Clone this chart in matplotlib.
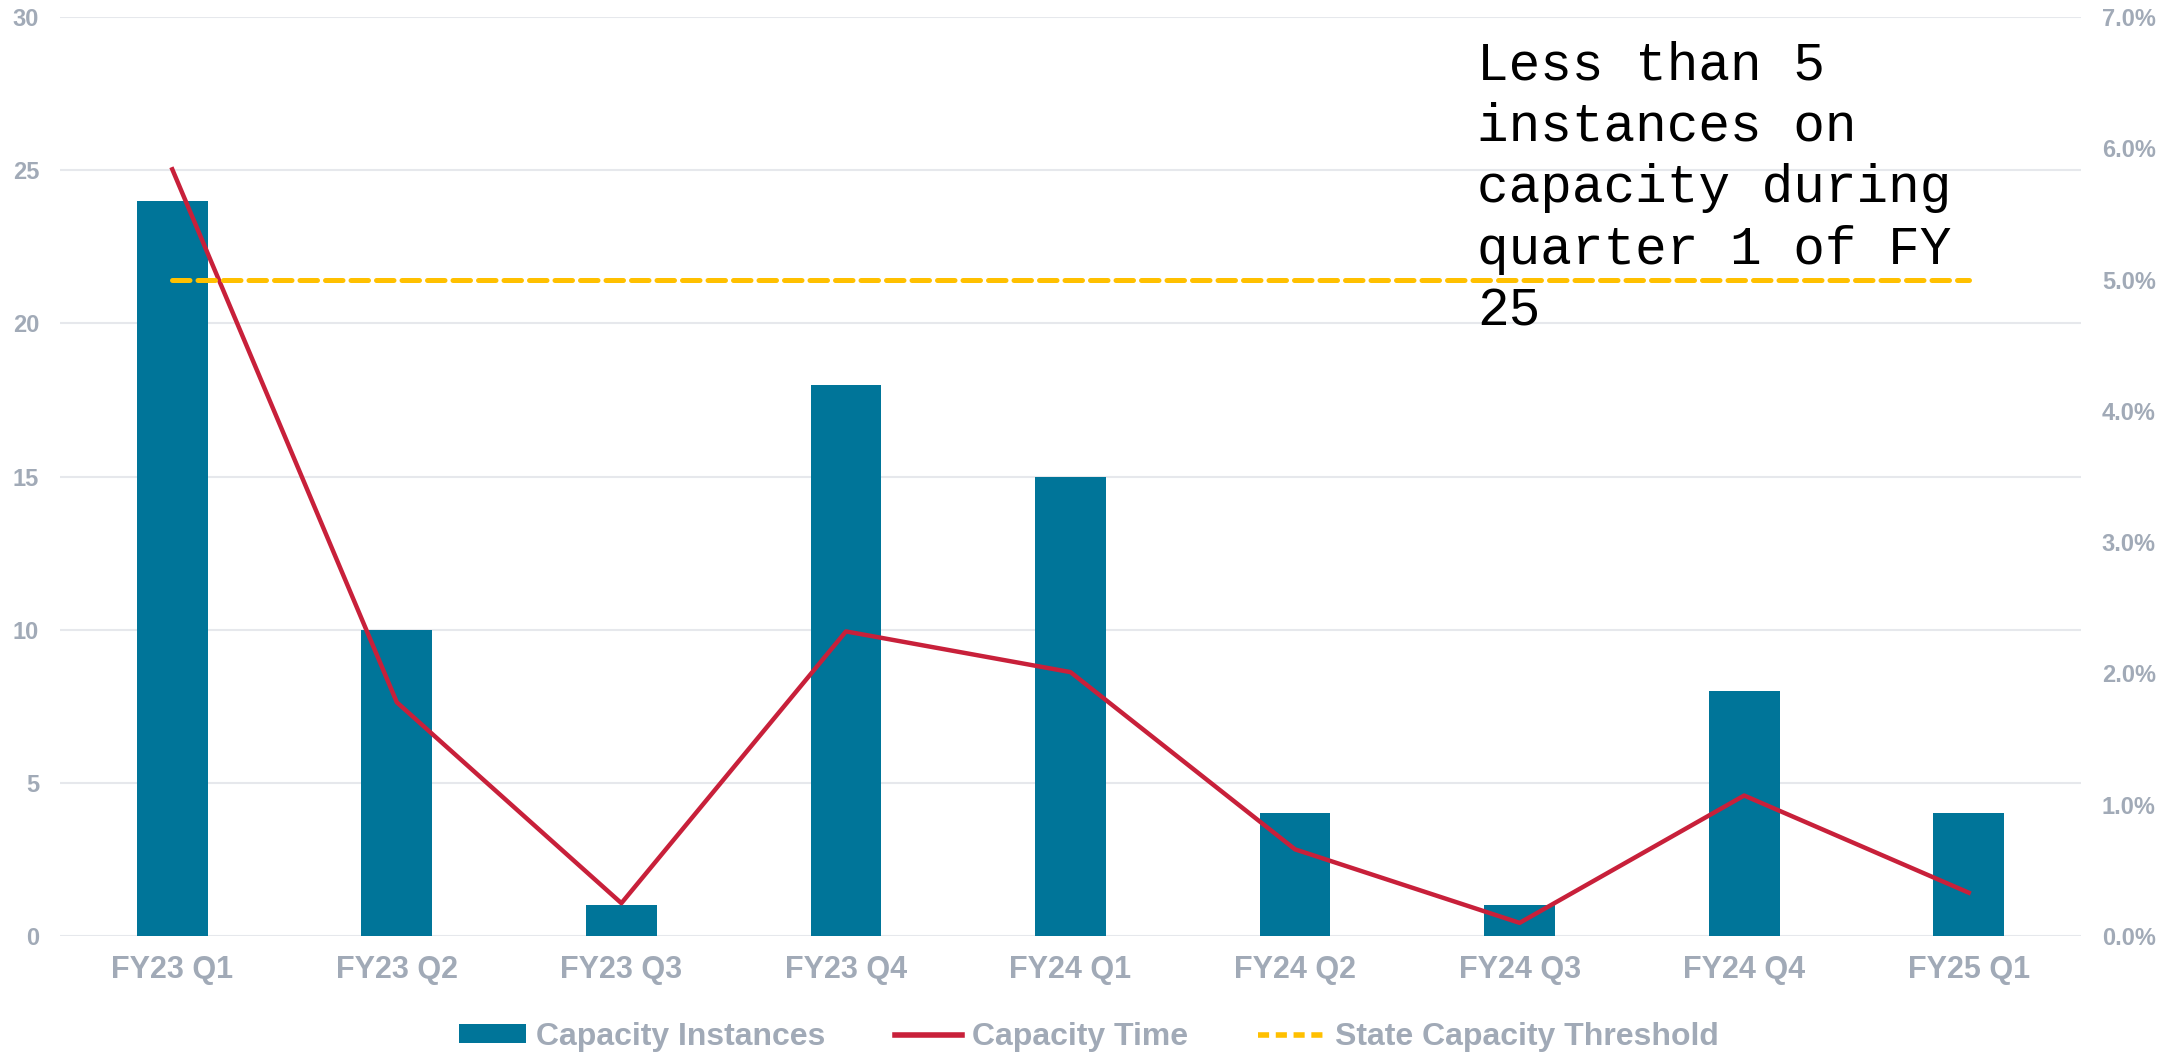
import matplotlib
matplotlib.use("Agg")
import matplotlib.pyplot as plt
from matplotlib.ticker import PercentFormatter, MultipleLocator
from matplotlib.patches import Patch
from matplotlib.lines import Line2D

categories = ["FY23 Q1", "FY23 Q2", "FY23 Q3", "FY23 Q4", "FY24 Q1",
              "FY24 Q2", "FY24 Q3", "FY24 Q4", "FY25 Q1"]
capacity_instances = [24, 10, 1, 18, 15, 4, 1, 8, 4]
capacity_time = [0.0584, 0.0178, 0.0025, 0.0232, 0.0201, 0.0066, 0.0010, 0.0107, 0.0033]
state_threshold = [0.05] * len(categories)
annotation = "Less than 5\ninstances on\ncapacity during\nquarter 1 of FY\n25"

BAR = "#007599"
RED = "#C8203A"
YEL = "#FFC000"
GRAY = "#A1AAB7"
GRID = "#E6E8EC"

plt.rcParams['font.family'] = ['Liberation Sans', 'DejaVu Sans']

fig = plt.figure(figsize=(21.74, 10.55), dpi=100)
ax = fig.add_axes([60/2174, 1-936/1055, (2081-60)/2174, (936-17)/1055])
ax2 = ax.twinx()

x = list(range(len(categories)))
ax.bar(x, capacity_instances, width=0.315, color=BAR, zorder=2)
ax.set_xlim(-0.5, len(categories) - 0.5)
ax.set_ylim(0, 30)
ax.yaxis.set_major_locator(MultipleLocator(5))
ax.grid(axis='y', color=GRID, linewidth=1.5, zorder=0)
ax.set_axisbelow(True)
ax.set_xticks(x)
ax.set_xticklabels(categories)

ax2.plot(x, capacity_time, color=RED, linewidth=3.2, zorder=3)
ax2.plot(x, state_threshold, color=YEL, linewidth=3.6, linestyle=(0, (3.5, 1.6)),
         dash_capstyle='round', zorder=3)
ax2.set_ylim(0, 0.07)
ax2.yaxis.set_major_locator(MultipleLocator(0.01))
ax2.yaxis.set_major_formatter(PercentFormatter(1.0, decimals=1))

for a in (ax, ax2):
    for s in a.spines.values():
        s.set_visible(False)
    a.tick_params(axis='both', length=0, colors=GRAY)

ax.tick_params(axis='y', labelsize=17, pad=15)
ax.tick_params(axis='x', labelsize=22, pad=14)
ax2.tick_params(axis='y', labelsize=17, pad=15)
for lab in ax.get_yticklabels() + ax.get_xticklabels() + ax2.get_yticklabels():
    lab.set_fontweight('bold')

fig.text(1477/2174, 1-40/1055, annotation, family=['Liberation Mono', 'DejaVu Sans Mono'],
         fontsize=38, va='top', ha='left', color='black', linespacing=1.30)

handles = [Patch(facecolor=BAR, edgecolor='none'),
           Line2D([0], [0], color=RED, linewidth=4),
           Line2D([0], [0], color=YEL, linewidth=4, linestyle=(0, (2, 1.2)))]
labels = ["Capacity Instances", "Capacity Time", "State Capacity Threshold"]
leg = fig.legend(handles, labels, loc='center', bbox_to_anchor=(0.5 + 2/2174, 1-1037/1055),
                 ncol=3, frameon=False, fontsize=23, handlelength=2.1, handleheight=0.55,
                 handletextpad=0.3, columnspacing=2.2)
for t in leg.get_texts():
    t.set_color(GRAY)
    t.set_fontweight('bold')

fig.savefig("out.png", dpi=100)
